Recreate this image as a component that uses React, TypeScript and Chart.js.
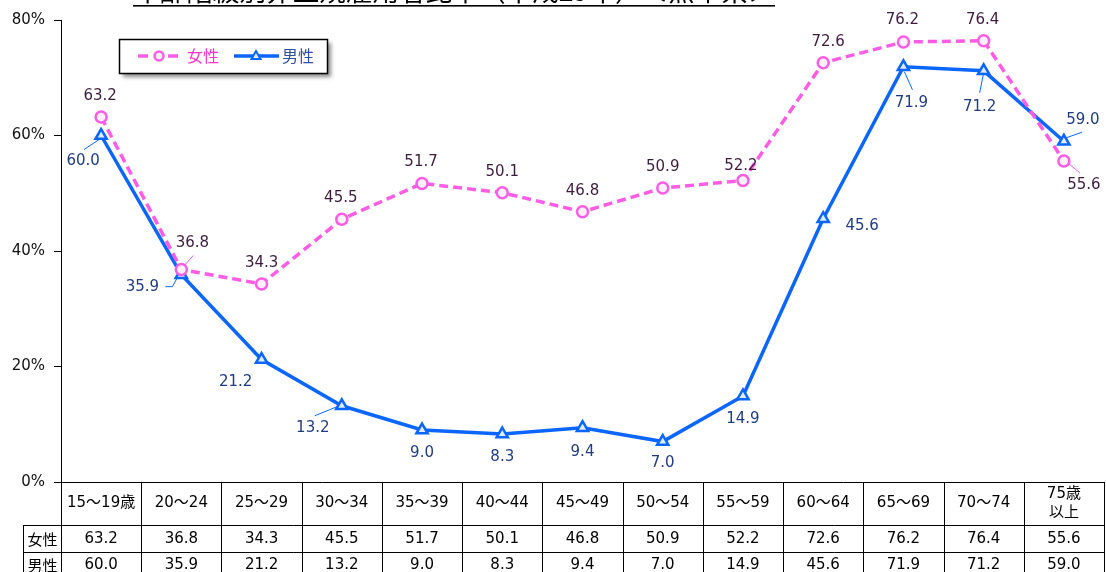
import React, { useEffect, useRef } from "react";
import { Chart, registerables } from "chart.js";

Chart.register(...registerables);

// ---------- data ----------
const titleText = "年齢階級別非正規雇用者比率（平成29年）＜熊本県＞";
const categories = [
  "15～19歳", "20～24", "25～29", "30～34", "35～39", "40～44", "45～49",
  "50～54", "55～59", "60～64", "65～69", "70～74", "75歳\n以上",
];
const seriesNames = ["女性", "男性"];
const femaleValues = [63.2, 36.8, 34.3, 45.5, 51.7, 50.1, 46.8, 50.9, 52.2, 72.6, 76.2, 76.4, 55.6];
const maleValues = [60.0, 35.9, 21.2, 13.2, 9.0, 8.3, 9.4, 7.0, 14.9, 45.6, 71.9, 71.2, 59.0];
const yTicks = [0, 20, 40, 60, 80];

// ---------- styles ----------
const FEMALE_COLOR = "#FF5CE6";
const MALE_COLOR = "#0A66FF";
const FEMALE_LABEL = "#3E1C3E";
const MALE_LABEL = "#1F3C80";
const NUM_FONT = '"DejaVu Sans", "Noto Sans CJK JP", sans-serif';
const JP_FONT = '"Noto Sans CJK JP", "DejaVu Sans", sans-serif';

type LabelPos = { dx: number; dy: number; leader?: number[][] };
// label offsets relative to each point
const femaleLabelPos: LabelPos[] = [
  { dx: -1, dy: -21 },
  { dx: 11, dy: -26, leader: [[3, -4], [12, -14]] },
  { dx: 0, dy: -21 },
  { dx: -1, dy: -21 },
  { dx: -1, dy: -21 },
  { dx: 0, dy: -21 },
  { dx: 0, dy: -21 },
  { dx: 0, dy: -21 },
  { dx: -2, dy: -14 },
  { dx: 5, dy: -21 },
  { dx: -1, dy: -22 },
  { dx: -1, dy: -21 },
  { dx: 20, dy: 24, leader: [[4, 2], [16, 12]] },
];
const maleLabelPos: LabelPos[] = [
  { dx: -18, dy: 26, leader: [[-2, 4], [-17, 14]] },
  { dx: -39, dy: 12, leader: [[-4, 3], [-9, 12], [-16, 12]] },
  { dx: -26, dy: 23 },
  { dx: -29, dy: 22, leader: [[-5, 1], [-27, 10]] },
  { dx: 0, dy: 23 },
  { dx: 0, dy: 23 },
  { dx: 0, dy: 24 },
  { dx: 0, dy: 22 },
  { dx: 0, dy: 23 },
  { dx: 39, dy: 7 },
  { dx: 8, dy: 36, leader: [[1, 5], [9, 23]] },
  { dx: -4, dy: 36, leader: [[0, 2], [-4, 22]] },
  { dx: 19, dy: -21, leader: [[1, -3], [18, -9]] },
];

const overlayPlugin = {
  id: "overlay",
  afterDraw(chart: any) {
    const ctx: CanvasRenderingContext2D = chart.ctx;
    const xs = chart.scales.x;
    const ca = chart.chartArea;
    ctx.save();

    // ----- title (clipped at the top edge) -----
    ctx.font = `24px ${JP_FONT}`;
    const w24 = ctx.measureText(titleText).width;
    const tLeft = 133, tRight = 775;
    const size = (24 * (tRight - tLeft)) / w24;
    ctx.font = `${size}px ${JP_FONT}`;
    ctx.fillStyle = "#000";
    ctx.textAlign = "left";
    ctx.textBaseline = "alphabetic";
    ctx.fillText(titleText, tLeft, 1);
    ctx.fillRect(tLeft, 5, tRight - tLeft, 1.6);

    // ----- legend -----
    ctx.save();
    ctx.shadowColor = "rgba(0,0,0,0.45)";
    ctx.shadowBlur = 4;
    ctx.shadowOffsetX = 3;
    ctx.shadowOffsetY = 3;
    ctx.fillStyle = "#fff";
    ctx.fillRect(119.5, 39.5, 208, 34);
    ctx.restore();
    ctx.strokeStyle = "#000";
    ctx.lineWidth = 1.5;
    ctx.strokeRect(119.5, 39.5, 208, 34);
    const ly = 56;
    ctx.lineWidth = 3.5;
    ctx.strokeStyle = FEMALE_COLOR;
    ctx.beginPath();
    ctx.moveTo(138, ly); ctx.lineTo(148, ly);
    ctx.moveTo(168, ly); ctx.lineTo(178, ly);
    ctx.stroke();
    ctx.lineWidth = 2.5;
    ctx.fillStyle = "#FFF0FD";
    ctx.beginPath();
    ctx.arc(159, ly, 4.5, 0, Math.PI * 2);
    ctx.fill();
    ctx.stroke();
    ctx.lineWidth = 3.5;
    ctx.strokeStyle = MALE_COLOR;
    ctx.beginPath();
    ctx.moveTo(234, ly); ctx.lineTo(279, ly);
    ctx.stroke();
    ctx.lineWidth = 2;
    ctx.fillStyle = "#E0ECFF";
    ctx.beginPath();
    ctx.moveTo(256, ly - 5); ctx.lineTo(260.5, ly + 3); ctx.lineTo(251.5, ly + 3); ctx.closePath();
    ctx.fill();
    ctx.stroke();
    ctx.font = `16px ${JP_FONT}`;
    ctx.textBaseline = "middle";
    ctx.fillStyle = "#FF33CC";
    ctx.fillText(seriesNames[0], 187, ly);
    ctx.fillStyle = "#2F4F9F";
    ctx.fillText(seriesNames[1], 282, ly);

    // ----- data labels -----
    const drawLabels = (dsIndex: number, values: number[], pos: LabelPos[], color: string, lineColor: string) => {
      const meta = chart.getDatasetMeta(dsIndex);
      ctx.font = `15px ${NUM_FONT}`;
      ctx.textAlign = "center";
      ctx.textBaseline = "middle";
      meta.data.forEach((pt: any, i: number) => {
        const p = pos[i];
        if (p.leader) {
          ctx.strokeStyle = lineColor;
          ctx.lineWidth = 1;
          ctx.beginPath();
          p.leader.forEach((c, k) => {
            if (k === 0) ctx.moveTo(pt.x + c[0], pt.y + c[1]);
            else ctx.lineTo(pt.x + c[0], pt.y + c[1]);
          });
          ctx.stroke();
        }
        ctx.fillStyle = color;
        ctx.fillText(values[i].toFixed(1), pt.x + p.dx, pt.y + p.dy);
      });
    };
    drawLabels(0, femaleValues, femaleLabelPos, FEMALE_LABEL, FEMALE_COLOR);
    drawLabels(1, maleValues, maleLabelPos, MALE_LABEL, MALE_COLOR);

    // ----- data table -----
    const n = categories.length;
    const colW = (xs.right - xs.left) / n;
    const top = Math.round(ca.bottom);
    const r1 = top + 43;
    const r2 = r1 + 27;
    const r3 = r2 + 26;
    const labelLeft = 23;
    const a = (v: number) => Math.round(v) + 0.5;
    ctx.strokeStyle = "#000";
    ctx.lineWidth = 1;
    ctx.beginPath();
    ctx.moveTo(a(xs.left), a(top)); ctx.lineTo(a(xs.right), a(top));
    [r1, r2, r3].forEach((r) => { ctx.moveTo(a(labelLeft), a(r)); ctx.lineTo(a(xs.right), a(r)); });
    for (let k = 0; k <= n; k++) {
      const x = a(xs.left + k * colW);
      ctx.moveTo(x, top); ctx.lineTo(x, r3 + 10);
    }
    ctx.moveTo(a(labelLeft), r1); ctx.lineTo(a(labelLeft), r3 + 10);
    ctx.stroke();

    ctx.fillStyle = "#000";
    ctx.textAlign = "center";
    ctx.textBaseline = "middle";
    ctx.font = `15px ${NUM_FONT}`;
    categories.forEach((c, i) => {
      const cx = xs.getPixelForValue(i);
      const lines = c.split("\n");
      if (lines.length === 1) {
        ctx.fillText(lines[0], cx, top + 21.5);
      } else {
        ctx.fillText(lines[0], cx, top + 12.5);
        ctx.fillText(lines[1], cx, top + 31.5);
      }
      ctx.fillText(femaleValues[i].toFixed(1), cx, (r1 + r2) / 2 + 0.5);
      ctx.fillText(maleValues[i].toFixed(1), cx, (r2 + r3) / 2);
    });
    ctx.font = `15px ${JP_FONT}`;
    ctx.fillText(seriesNames[0], (labelLeft + xs.left) / 2 + 0.5, (r1 + r2) / 2 + 0.5);
    ctx.fillText(seriesNames[1], (labelLeft + xs.left) / 2 + 0.5, (r2 + r3) / 2);

    ctx.restore();
  },
};

export default function App() {
  const canvasRef = useRef<HTMLCanvasElement | null>(null);

  useEffect(() => {
    if (!canvasRef.current) return;
    const chart = new Chart(canvasRef.current, {
      type: "line",
      data: {
        labels: categories,
        datasets: [
          {
            label: seriesNames[0],
            data: femaleValues,
            borderColor: FEMALE_COLOR,
            borderWidth: 3.5,
            borderDash: [9, 5],
            pointStyle: "circle",
            pointRadius: 5.5,
            pointBorderWidth: 2.5,
            pointBackgroundColor: "#FFF0FD",
            pointBorderColor: FEMALE_COLOR,
            tension: 0,
            order: 0,
          },
          {
            label: seriesNames[1],
            data: maleValues,
            borderColor: MALE_COLOR,
            borderWidth: 3.5,
            pointStyle: "triangle",
            pointRadius: 6.5,
            pointBorderWidth: 2.5,
            pointBackgroundColor: "#E0ECFF",
            pointBorderColor: MALE_COLOR,
            tension: 0,
            order: 1,
          },
        ],
      },
      options: {
        responsive: false,
        animation: false,
        devicePixelRatio: 1,
        layout: { autoPadding: false, padding: { top: 20, right: 2, bottom: 90, left: 0 } },
        plugins: {
          legend: { display: false },
          title: { display: false },
          tooltip: { enabled: false },
        },
        scales: {
          x: {
            type: "category",
            offset: true,
            display: false,
          },
          y: {
            min: yTicks[0],
            max: yTicks[yTicks.length - 1],
            afterBuildTicks: (scale: any) => {
              scale.ticks = yTicks.map((v) => ({ value: v }));
            },
            afterFit: (scale: any) => {
              scale.width = 61;
            },
            ticks: {
              callback: (v: any) => `${v}%`,
              font: { family: NUM_FONT, size: 15 },
              color: "#111",
              padding: 9,
            },
            grid: {
              drawOnChartArea: false,
              drawTicks: true,
              tickLength: 7,
              color: "#000",
            },
            border: { display: true, color: "#000", width: 1 },
          },
        },
      },
      plugins: [overlayPlugin],
    } as any);
    return () => chart.destroy();
  }, []);

  return (
    <div style={{ position: "fixed", left: 0, top: 0, width: 1106, height: 572, background: "#fff" }}>
      <canvas ref={canvasRef} width={1106} height={572} style={{ width: 1106, height: 572, display: "block" }} />
    </div>
  );
}
